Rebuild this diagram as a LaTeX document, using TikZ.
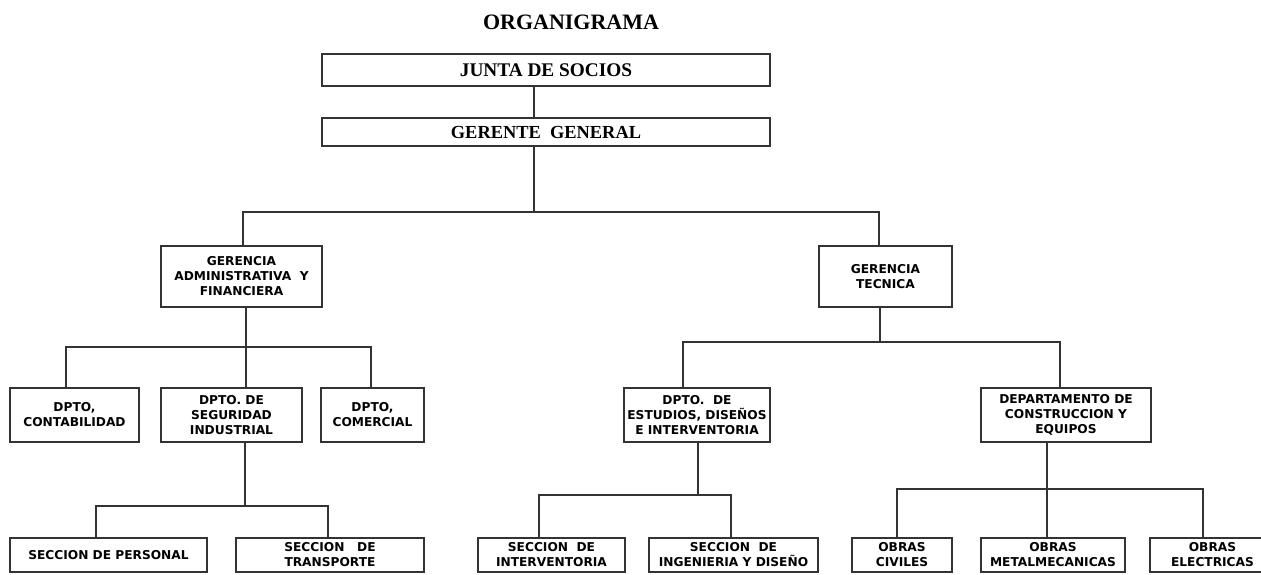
\documentclass[tikz,border=0pt]{standalone}
\usepackage{fontspec}
\setmainfont{Liberation Serif}
\newfontfamily\boxfamily{DejaVu Sans}
\definecolor{linec}{HTML}{333333}
\tikzset{
  conn/.style={draw=linec, line width=1.2pt},
  topbox/.style={draw=linec, line width=1.2pt, inner sep=0pt, minimum width=448pt, align=center},
  orgbox/.style={draw=linec, line width=1.2pt, inner sep=0pt, align=center, minimum height=54pt,
    font=\boxfamily\bfseries\fontsize{12.2}{15}\selectfont},
  lowbox/.style={orgbox, minimum height=34pt},
  midbox/.style={orgbox, minimum height=61pt}
}
\begin{document}
\begin{tikzpicture}[x=1pt,y=-1pt]
\useasboundingbox (0,0) rectangle (1261,574);
% title
\node[font=\bfseries\fontsize{22}{26}\selectfont, inner sep=0pt] (title) at (571,22.5) {ORGANIGRAMA};
% top boxes
\node[topbox, minimum height=32pt, font=\bfseries\fontsize{19.3}{22}\selectfont] (junta) at (546,70) {JUNTA DE SOCIOS};
\node[topbox, minimum height=28pt, font=\bfseries\fontsize{18.4}{22}\selectfont] (gerente) at (546,132) {GERENTE~~GENERAL};
% level 2
\node[midbox, minimum width=161pt] (ga) at (241.5,276.5) {GERENCIA\\ADMINISTRATIVA~~Y\\FINANCIERA};
\node[midbox, minimum width=133pt] (gt) at (885.5,276.5) {GERENCIA\\TECNICA};
% level 3
\node[orgbox, minimum width=129pt] (cont) at (74.5,415) {DPTO,\\CONTABILIDAD};
\node[orgbox, minimum width=141pt] (seg) at (231.5,415) {DPTO. DE\\SEGURIDAD\\INDUSTRIAL};
\node[orgbox, minimum width=103pt] (com) at (372.5,415) {DPTO,\\COMERCIAL};
\node[orgbox, minimum width=146pt] (est) at (697,415) {DPTO.~~DE\\ESTUDIOS, DISEÑOS\\E INTERVENTORIA};
\node[orgbox, minimum width=170pt] (cons) at (1066,415) {DEPARTAMENTO DE\\CONSTRUCCION Y\\EQUIPOS};
% level 4
\node[lowbox, minimum width=197pt] (pers) at (108.5,555) {SECCION DE PERSONAL};
\node[lowbox, minimum width=188pt] (trans) at (330,555) {SECCION~~~DE\\TRANSPORTE};
\node[lowbox, minimum width=147pt] (interv) at (551.5,555) {SECCION~~DE\\INTERVENTORIA};
\node[lowbox, minimum width=169pt] (ing) at (733.5,555) {SECCION~~DE\\INGENIERIA Y DISEÑO};
\node[lowbox, minimum width=100pt] (civ) at (902,555) {OBRAS\\CIVILES};
\node[lowbox, minimum width=144pt] (met) at (1053,555) {OBRAS\\METALMECANICAS};
\node[lowbox, minimum width=125pt] (elec) at (1212.5,555) {OBRAS\\ELECTRICAS};
% bus coordinates
\coordinate (b0) at (534,212);
\coordinate (b0l) at (243,212);
\coordinate (b0r) at (879,212);
\coordinate (b1) at (246,347);
\coordinate (b1l) at (66,347);
\coordinate (b1r) at (371,347);
\coordinate (b2) at (245,506);
\coordinate (b2l) at (96,506);
\coordinate (b2r) at (328,506);
\coordinate (b3) at (880,342);
\coordinate (b3l) at (683,342);
\coordinate (b3r) at (1060,342);
\coordinate (b4) at (698,495);
\coordinate (b4l) at (539,495);
\coordinate (b4r) at (731,495);
\coordinate (b5) at (1047,489);
\coordinate (b5l) at (897,489);
\coordinate (b5r) at (1203,489);
% connectors
\draw[conn] (junta.south -| b0) -- (gerente.north -| b0);
\draw[conn] (gerente.south -| b0) -- (b0);
\draw[conn] (ga.north -| b0l) -- (b0l) -- (b0r) -- (gt.north -| b0r);
\draw[conn] (ga.south -| b1) -- (b1);
\draw[conn] (cont.north -| b1l) -- (b1l) -- (b1r) -- (com.north -| b1r);
\draw[conn] (b1) -- (seg.north -| b1);
\draw[conn] (seg.south -| b2) -- (b2);
\draw[conn] (pers.north -| b2l) -- (b2l) -- (b2r) -- (trans.north -| b2r);
\draw[conn] (gt.south -| b3) -- (b3);
\draw[conn] (est.north -| b3l) -- (b3l) -- (b3r) -- (cons.north -| b3r);
\draw[conn] (est.south -| b4) -- (b4);
\draw[conn] (interv.north -| b4l) -- (b4l) -- (b4r) -- (ing.north -| b4r);
\draw[conn] (cons.south -| b5) -- (b5);
\draw[conn] (civ.north -| b5l) -- (b5l) -- (b5r) -- (elec.north -| b5r);
\draw[conn] (b5) -- (met.north -| b5);
\end{tikzpicture}
\end{document}
